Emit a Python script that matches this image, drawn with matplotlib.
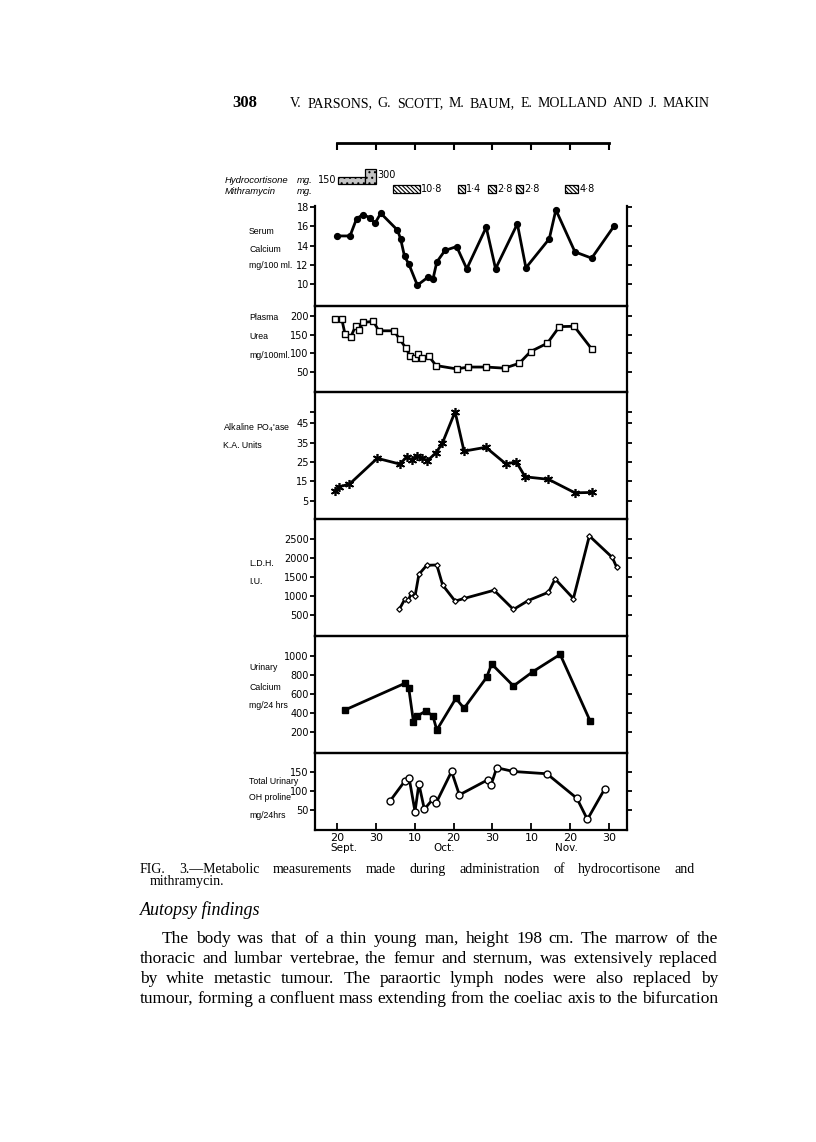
import numpy as np
import matplotlib
matplotlib.use('Agg')
import matplotlib.pyplot as plt

# x axis: 20 = 20 Sept, 30 = 30 Sept, 40 = 10 Oct, ... (equal 10-day steps as drawn)
tick_pos = [20, 30, 40, 50, 60, 70, 80, 90]
tick_lab = ['20', '30', '10', '20', '30', '10', '20', '30']
months = ['Sept.', 'Oct.', 'Nov.']
month_pos = [21.9, 47.5, 79.1]

# treatment
hc_start = [20.2, 27.3]
hc_end = [27.3, 30.1]
hc_dose = [150, 300]
mi_start = [34.5, 51.2, 58.9, 66.1, 78.7]
mi_end = [41.5, 52.9, 60.9, 67.9, 82.1]
mi_dose = ['10·8', '1·4', '2·8', '2·8', '4·8']

# serum calcium mg/100 ml
ca_x = [20.1, 23.4, 25.1, 26.7, 28.5, 29.8, 31.3, 35.6, 36.4, 37.4, 38.5, 40.7, 43.5, 44.7,
        45.7, 47.8, 50.8, 53.4, 58.4, 60.8, 66.4, 68.6, 74.6, 76.3, 81.2, 85.5, 91.3]
ca_y = [15.0, 15.0, 16.8, 17.2, 16.9, 16.3, 17.35, 15.6, 14.7, 12.9, 12.1, 9.9, 10.75, 10.5,
        12.3, 13.5, 13.9, 11.6, 15.9, 11.6, 16.25, 11.7, 14.7, 17.7, 13.35, 12.7, 16.05]

# plasma urea mg/100 ml
urea_x = [19.5, 21.3, 22.1, 23.6, 24.9, 25.6, 26.8, 29.4, 30.8, 34.7, 36.2, 37.8, 38.8, 40.0,
          40.9, 41.8, 43.7, 45.5, 50.8, 53.8, 58.4, 63.1, 66.9, 69.8, 74.1, 77.2, 81.0, 85.5]
urea_y = [190, 190, 152, 144, 174, 162, 182, 185, 160, 160, 137, 114, 93, 89,
          98, 89, 92, 68, 59, 64, 64, 61, 74, 105, 127, 171, 172, 112]

# alkaline phosphatase K.A. units
alk_x = [19.5, 20.6, 23.2, 30.4, 36.2, 38.0, 39.3, 40.5, 41.8, 43.3, 45.5, 47.1, 50.4, 52.7,
         58.3, 63.5, 66.1, 68.4, 74.4, 81.2, 85.5]
alk_y = [9.9, 12.2, 13.4, 26.9, 23.9, 27.7, 26.0, 28.2, 27.2, 25.6, 29.8, 34.6, 51.0, 30.6,
         32.6, 23.9, 25.1, 17.3, 16.0, 9.0, 9.2]

# LDH I.U.
ldh_x = [36.1, 37.5, 38.4, 39.1, 40.1, 41.1, 43.1, 45.7, 47.2, 50.4, 52.8, 60.4, 65.4, 69.2,
         74.4, 76.1, 80.8, 84.9, 90.8, 91.9]
ldh_y = [658, 921, 886, 1070, 991, 1570, 1807, 1816, 1289, 868, 939, 1152, 648, 883,
         1100, 1448, 935, 2578, 2013, 1761]

# urinary calcium mg/24 hrs
uca_x = [22.1, 37.5, 38.5, 39.7, 40.7, 42.9, 44.7, 45.7, 50.6, 52.7, 58.5, 59.8, 65.4, 70.4, 77.4, 85.1]
uca_y = [434, 714, 661, 312, 371, 424, 371, 224, 556, 452, 776, 916, 686, 836, 1017, 319]

# total urinary OH proline mg/24 hrs
oh_x = [33.7, 37.5, 38.6, 40.1, 41.1, 42.5, 44.7, 45.5, 49.5, 51.5, 58.8, 59.6, 61.1, 65.4,
        74.0, 81.7, 84.4, 88.8]
oh_y = [74, 127, 134, 46, 119, 52, 79, 68, 152, 90, 130, 115, 162, 152, 146, 81, 25, 105]

W, H = 816, 1142
fig = plt.figure(figsize=(W / 100, H / 100), dpi=100)
fig.patch.set_facecolor('white')


def fx(px):
    return px / W


def fy(py):
    return 1 - py / H


X0, X1 = 315, 626.7
XLIM = (14.4, 94.5)
SANS = 'DejaVu Sans'
LAB = 'Liberation Sans'
SERIF = 'Liberation Serif'

panels = [
    dict(x=ca_x, y=ca_y, lim=(7.8, 18.1), ticks=[10, 12, 14, 16, 18], labs=None,
         mk=dict(marker='o', mfc='black', ms=4.2),
         text=['Serum', 'Calcium', 'mg/100 ml.'], tx=249, ty=[232, 249, 266]),
    dict(x=urea_x, y=urea_y, lim=(-1.3, 227), ticks=[50, 100, 150, 200], labs=None,
         mk=dict(marker='s', mfc='white', ms=4, mew=1),
         text=['Plasma', 'Urea', 'mg/100ml.'], tx=249, ty=[317, 336, 355]),
    dict(x=alk_x, y=alk_y, lim=(-4.3, 61.4), ticks=[5, 15, 25, 35, 45, 51],
         labs=['5', '15', '25', '35', '45', ''],
         mk=dict(marker=(6, 2, 0), ms=6.5, mew=1.2),
         text=["Alkaline PO$_4$'ase", 'K.A. Units'], tx=223, ty=[428, 445]),
    dict(x=ldh_x, y=ldh_y, lim=(-48, 3035), ticks=[500, 1000, 1500, 2000, 2500], labs=None,
         mk=dict(marker='D', mfc='white', ms=2.8, mew=0.9),
         text=['L.D.H.', 'I.U.'], tx=249, ty=[563, 581]),
    dict(x=uca_x, y=uca_y, lim=(-17, 1210), ticks=[200, 400, 600, 800, 1000], labs=None,
         mk=dict(marker='s', mfc='black', ms=4),
         text=['Urinary', 'Calcium', 'mg/24 hrs'], tx=249, ty=[667, 687, 706]),
    dict(x=oh_x, y=oh_y, lim=(-3, 201), ticks=[50, 100, 150], labs=None,
         mk=dict(marker='o', mfc='white', ms=5, mew=1),
         text=['Total Urinary', 'OH proline', 'mg/24hrs'], tx=249, ty=[781, 798, 816]),
]
edges = [206, 305.5, 391.7, 518.5, 636, 753, 830]

for i, p in enumerate(panels):
    top, bot = edges[i], edges[i + 1]
    ax = fig.add_axes([fx(X0), fy(bot), fx(X1) - fx(X0), (bot - top) / H])
    ax.plot(p['x'], p['y'], color='black', lw=2, mec='black', **p['mk'])
    ax.set_xlim(XLIM)
    ax.set_ylim(p['lim'])
    ax.set_yticks(p['ticks'])
    if p['labs'] is not None:
        ax.set_yticklabels(p['labs'])
    ax.tick_params(axis='y', left=True, right=True, direction='out', length=3.5, width=1.3,
                   labelsize=7, pad=1)
    ax.tick_params(axis='x', bottom=False, labelbottom=False)
    for s in ax.spines.values():
        s.set_linewidth(1.6)
    if i == 0:
        ax.spines['top'].set_visible(False)
    ax.patch.set_alpha(0)
    for line, ty in zip(p['text'], p['ty']):
        fig.text(fx(p['tx']), fy(ty), line, ha='left', va='center', fontsize=6.3, family=LAB)
    if i == len(panels) - 1:
        ax.set_xticks(tick_pos)
        ax.set_xticklabels(tick_lab)
        ax.tick_params(axis='x', bottom=True, labelbottom=True, direction='in', length=5,
                       width=1.3, labelsize=8, pad=2)
        for m, mp in zip(months, month_pos):
            ax.text(mp, -0.234, m, transform=ax.get_xaxis_transform(), ha='center',
                    va='center', fontsize=7.5, family=SANS)

# treatment strip and top scale
axt = fig.add_axes([fx(X0), fy(200), fx(X1) - fx(X0), 57 / H])
axt.set_xlim(XLIM)
axt.set_ylim(57, 0)
axt.patch.set_alpha(0)
for k in ['left', 'right', 'bottom']:
    axt.spines[k].set_visible(False)
axt.spines['top'].set_bounds(tick_pos[0], tick_pos[-1])
axt.spines['top'].set_linewidth(2)
axt.set_xticks(tick_pos)
axt.tick_params(axis='x', bottom=False, labelbottom=False, top=True, direction='in',
                length=5, width=1.5)
axt.set_yticks([])

plt.rcParams['hatch.linewidth'] = 0.8
axt.bar(hc_start, [-d * 0.05 for d in hc_dose], width=np.subtract(hc_end, hc_start),
        bottom=41, align='edge', facecolor='#c4c4c4', edgecolor='black', lw=0.9, hatch='...')
axt.text(hc_start[0] - 0.2, 37, str(hc_dose[0]), ha='right', va='center', fontsize=7, family=SANS)
axt.text(hc_end[1] + 0.2, 32, str(hc_dose[1]), ha='left', va='center', fontsize=7, family=SANS)
axt.bar(mi_start, [-8] * len(mi_start), width=np.subtract(mi_end, mi_start), bottom=50,
        align='edge', facecolor='white', edgecolor='black', lw=0.9, hatch='\\\\\\\\\\\\\\\\')
for s, e, d in zip(mi_start, mi_end, mi_dose):
    axt.text(e + 0.25, 46, d, ha='left', va='center', fontsize=7, family=SANS)

fig.text(fx(225), fy(181), 'Hydrocortisone', ha='left', va='center', fontsize=6.8,
         style='italic', family=LAB)
fig.text(fx(297), fy(181), 'mg.', ha='left', va='center', fontsize=6.8, style='italic', family=LAB)
fig.text(fx(225), fy(192), 'Mithramycin', ha='left', va='center', fontsize=6.8,
         style='italic', family=LAB)
fig.text(fx(297), fy(192), 'mg.', ha='left', va='center', fontsize=6.8, style='italic', family=LAB)

# page text
renderer = fig.canvas.get_renderer()


def put_line(text, x0, x1, y, justify=True, **kw):
    words = text.split()
    objs = [fig.text(fx(x0), fy(y), w, ha='left', va='baseline', **kw) for w in words]
    widths = [t.get_window_extent(renderer).width for t in objs]
    if justify and len(words) > 1:
        gap = (x1 - x0 - sum(widths)) / (len(words) - 1)
    else:
        gap = kw.get('fontsize', 10) * 0.35
    x = x0
    for t, w in zip(objs, widths):
        t.set_x(fx(x))
        x += w + gap


fig.text(fx(232), fy(107), '308', ha='left', va='baseline', fontsize=12, family=SERIF,
         weight='bold')
put_line('V. PARSONS, G. SCOTT, M. BAUM, E. MOLLAND AND J. MAKIN', 290, 710, 107,
         fontsize=10, family=SERIF)

put_line('FIG. 3.—Metabolic measurements made during administration of hydrocortisone and',
         140, 695, 873, fontsize=10, family=SERIF)
put_line('mithramycin.', 150, 300, 885, justify=False, fontsize=10, family=SERIF)

fig.text(fx(140), fy(915), 'Autopsy findings', ha='left', va='baseline', fontsize=13,
         style='italic', family=SERIF)
body = [
    ('The body was that of a thin young man, height 198 cm.  The marrow of the', 162),
    ('thoracic and lumbar vertebrae, the femur and sternum, was extensively replaced', 140),
    ('by white metastic tumour.  The paraortic lymph nodes were also replaced by', 140),
    ('tumour, forming a confluent mass extending from the coeliac axis to the bifurcation', 140),
]
for k, (line, x0) in enumerate(body):
    put_line(line, x0, 718, 943 + 20 * k, fontsize=12.5, family=SERIF)

fig.savefig('out.png', dpi=100)
